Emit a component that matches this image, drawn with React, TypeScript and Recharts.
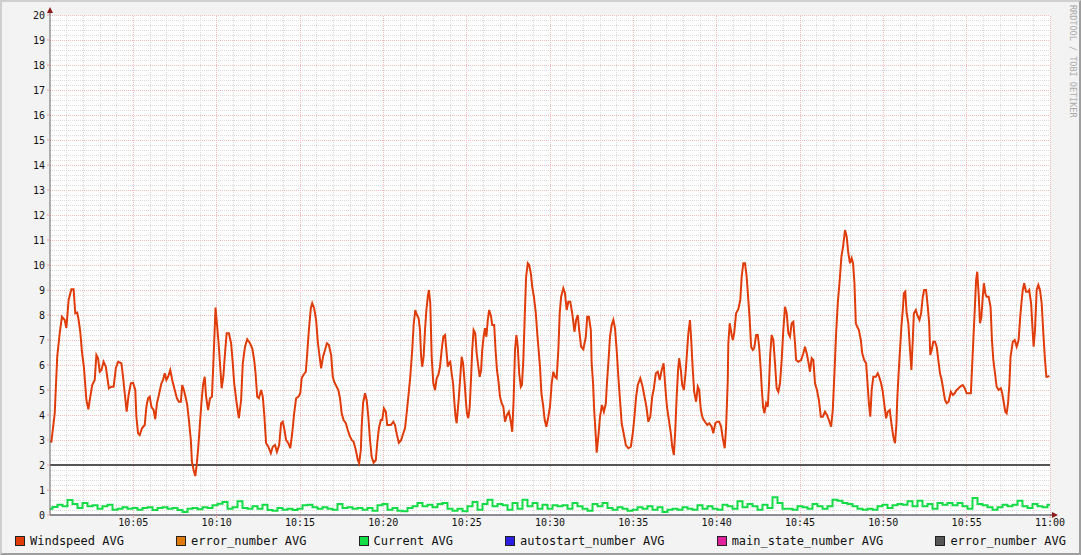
import React from 'react'
import {
  LineChart, Line, XAxis, YAxis, CartesianGrid, ReferenceLine, ReferenceDot,
} from 'recharts'

// seconds after 10:00, windspeed (m/s)
const windspeed: [number, number][] = [
  [0, 2.95], [5, 2.93], [17, 4.07], [26, 6.33], [35, 7.28], [43, 7.93], [53, 7.8], [59, 7.48],
  [67, 8.6], [77, 9.03], [85, 9.03], [91, 8.07], [98, 8.1], [103, 7.8], [109, 7.33], [115, 6.53],
  [122, 5.93], [131, 4.6], [138, 4.23], [145, 4.73], [152, 5.2], [161, 5.4], [167, 6.4], [173, 6.27],
  [179, 5.73], [185, 5.8], [193, 6.13], [201, 5.93], [206, 5.53], [212, 5.07], [221, 5.13], [229, 5.13],
  [237, 5.87], [245, 6.13], [257, 6.07], [263, 5.53], [269, 4.87], [276, 4.13], [283, 4.8], [291, 5.27],
  [299, 5.29], [307, 5.0], [311, 3.93], [317, 3.27], [323, 3.2], [331, 3.47], [341, 3.6], [347, 4.33],
  [353, 4.67], [359, 4.73], [365, 4.33], [373, 4.2], [379, 3.83], [385, 4.47], [392, 4.8], [401, 5.27],
  [407, 5.4], [413, 5.67], [419, 5.4], [425, 5.53], [433, 5.8], [440, 5.4], [449, 5.0], [457, 4.67],
  [464, 4.53], [471, 4.53], [476, 5.2], [482, 5.0], [489, 4.67], [494, 4.4], [500, 3.8], [507, 3.0],
  [511, 2.13], [517, 1.8], [523, 1.56], [527, 1.9], [533, 2.6], [539, 3.53], [545, 4.47], [551, 5.2],
  [557, 5.53], [562, 4.73], [569, 4.2], [576, 4.67], [583, 4.73], [589, 6.33], [596, 8.3], [606, 7.0],
  [612, 6.07], [618, 5.07], [624, 5.53], [630, 6.47], [636, 7.27], [644, 7.27], [652, 6.87], [658, 6.07],
  [663, 5.27], [672, 4.47], [680, 3.87], [688, 4.6], [694, 6.07], [702, 6.73], [710, 7.03], [720, 6.87],
  [728, 6.67], [735, 6.2], [740, 5.67], [746, 4.73], [752, 4.67], [760, 5.0], [766, 4.73], [771, 4.07],
  [778, 2.87], [786, 2.73], [795, 2.47], [802, 2.73], [810, 2.8], [817, 2.53], [825, 2.8], [832, 3.67],
  [838, 3.73], [843, 3.47], [850, 3.0], [858, 2.87], [865, 2.67], [872, 3.27], [879, 4.07], [886, 4.67],
  [894, 4.73], [901, 4.87], [906, 5.47], [912, 5.6], [921, 5.73], [926, 6.47], [932, 7.4], [939, 8.27],
  [944, 8.47], [951, 8.27], [958, 7.8], [964, 6.93], [969, 6.47], [976, 5.87], [983, 6.33], [990, 6.6],
  [997, 6.87], [1004, 6.8], [1012, 6.4], [1018, 5.53], [1023, 5.33], [1032, 5.13], [1038, 5.0], [1044, 4.67],
  [1050, 4.07], [1057, 3.8], [1065, 3.67], [1072, 3.4], [1079, 3.16], [1086, 3.0], [1093, 2.93], [1101, 2.6],
  [1108, 2.2], [1113, 2.07], [1119, 2.6], [1122, 3.53], [1127, 4.47], [1134, 4.87], [1140, 4.6], [1146, 3.93],
  [1152, 3.0], [1158, 2.33], [1165, 2.09], [1173, 2.2], [1178, 2.87], [1184, 3.47], [1191, 3.8], [1196, 3.8],
  [1202, 4.27], [1209, 4.13], [1214, 3.6], [1227, 3.6], [1236, 3.73], [1242, 3.6], [1249, 3.2], [1256, 2.89],
  [1264, 3.0], [1272, 3.27], [1278, 3.47], [1284, 4.07], [1290, 4.73], [1297, 5.53], [1304, 6.6], [1309, 7.6],
  [1315, 8.2], [1321, 8.0], [1327, 7.87], [1332, 7.4], [1336, 6.33], [1340, 5.93], [1345, 6.33], [1350, 7.4],
  [1355, 8.2], [1360, 8.73], [1364, 9.0], [1369, 8.47], [1374, 6.33], [1380, 5.27], [1386, 5.0], [1392, 5.47],
  [1398, 5.6], [1404, 5.93], [1410, 6.6], [1416, 7.13], [1422, 7.2], [1427, 6.6], [1432, 5.93], [1436, 6.07],
  [1441, 6.13], [1446, 5.67], [1451, 5.27], [1456, 4.47], [1460, 3.93], [1464, 3.67], [1468, 4.2], [1472, 4.73],
  [1477, 5.53], [1482, 6.33], [1487, 6.07], [1492, 5.4], [1497, 4.6], [1501, 4.07], [1506, 3.87], [1511, 4.33],
  [1516, 5.53], [1520, 6.6], [1525, 7.4], [1531, 7.27], [1536, 6.47], [1542, 5.93], [1547, 5.53], [1552, 5.8],
  [1556, 6.6], [1561, 7.13], [1566, 7.47], [1571, 7.13], [1576, 7.8], [1581, 8.2], [1588, 7.93], [1592, 7.6],
  [1599, 7.6], [1604, 6.6], [1609, 5.8], [1614, 5.4], [1620, 4.73], [1626, 4.47], [1632, 4.33], [1638, 3.73],
  [1645, 4.0], [1652, 4.13], [1660, 3.67], [1664, 3.33], [1669, 4.6], [1674, 6.6], [1679, 7.2], [1684, 6.73],
  [1689, 5.67], [1695, 5.13], [1699, 5.2], [1704, 6.2], [1709, 7.93], [1714, 9.53], [1720, 10.07], [1725, 10.0],
  [1731, 9.67], [1736, 9.13], [1742, 8.73], [1749, 8.07], [1754, 7.27], [1759, 6.6], [1764, 5.93], [1769, 4.87],
  [1775, 4.4], [1781, 3.8], [1787, 3.53], [1794, 3.93], [1800, 4.33], [1806, 5.27], [1812, 5.73], [1818, 5.53],
  [1824, 5.47], [1830, 6.6], [1835, 8.07], [1840, 8.73], [1848, 9.07], [1854, 8.87], [1860, 8.2], [1866, 8.53],
  [1873, 8.53], [1880, 8.07], [1888, 7.33], [1894, 7.8], [1900, 8.0], [1905, 7.4], [1912, 6.73], [1920, 6.63],
  [1929, 7.13], [1934, 7.93], [1940, 7.93], [1947, 7.4], [1950, 6.07], [1955, 5.27], [1959, 4.2], [1965, 3.13],
  [1968, 2.49], [1974, 3.13], [1980, 3.93], [1987, 4.4], [1994, 4.13], [2001, 4.47], [2005, 5.27], [2010, 6.07],
  [2016, 7.13], [2022, 7.6], [2028, 7.8], [2034, 7.47], [2040, 6.6], [2046, 5.53], [2052, 4.6], [2058, 3.67],
  [2065, 3.27], [2073, 2.8], [2082, 2.67], [2091, 2.73], [2098, 3.27], [2104, 3.93], [2110, 4.73], [2116, 5.2],
  [2125, 5.47], [2132, 5.2], [2139, 4.8], [2147, 4.33], [2154, 3.73], [2161, 3.93], [2168, 4.73], [2174, 5.07],
  [2181, 5.67], [2188, 5.73], [2195, 5.4], [2202, 5.8], [2209, 6.07], [2215, 5.13], [2221, 4.33], [2228, 3.8],
  [2235, 3.27], [2240, 2.73], [2246, 2.4], [2251, 3.4], [2256, 4.73], [2261, 5.8], [2265, 6.27], [2271, 5.8],
  [2276, 5.2], [2282, 5.0], [2289, 5.8], [2293, 6.47], [2298, 7.27], [2304, 7.8], [2309, 6.87], [2314, 5.8],
  [2319, 4.93], [2326, 4.53], [2332, 5.13], [2337, 5.0], [2343, 4.2], [2350, 3.87], [2358, 3.73], [2366, 3.6],
  [2373, 3.67], [2382, 3.53], [2388, 3.27], [2395, 3.67], [2402, 3.73], [2409, 3.73], [2416, 3.53], [2422, 3.07],
  [2429, 2.67], [2434, 3.53], [2440, 5.4], [2442, 6.87], [2447, 7.67], [2453, 7.27], [2458, 7.0], [2463, 7.27],
  [2470, 8.07], [2478, 8.23], [2485, 8.6], [2490, 9.53], [2496, 10.07], [2502, 10.07], [2508, 9.53], [2514, 8.6],
  [2519, 7.8], [2524, 6.73], [2530, 6.6], [2535, 6.67], [2542, 7.2], [2548, 7.2], [2553, 6.73], [2558, 5.93],
  [2562, 5.13], [2567, 4.33], [2572, 4.07], [2578, 4.47], [2584, 4.33], [2588, 5.13], [2593, 6.47], [2598, 7.2],
  [2604, 7.0], [2610, 6.07], [2616, 5.07], [2622, 4.93], [2628, 5.27], [2634, 6.2], [2640, 7.4], [2646, 8.33],
  [2652, 8.07], [2658, 7.27], [2664, 7.13], [2670, 7.67], [2676, 7.73], [2682, 6.87], [2686, 6.2], [2694, 6.13],
  [2704, 6.2], [2712, 6.47], [2718, 6.73], [2724, 6.47], [2730, 6.13], [2736, 5.73], [2742, 6.27], [2748, 6.2],
  [2754, 5.27], [2761, 5.0], [2768, 4.6], [2775, 3.93], [2782, 3.93], [2790, 4.13], [2797, 4.0], [2804, 3.8],
  [2812, 3.53], [2818, 4.2], [2824, 5.67], [2830, 7.27], [2836, 8.47], [2843, 9.4], [2849, 10.33], [2855, 10.73],
  [2862, 11.4], [2868, 11.13], [2874, 10.47], [2880, 10.07], [2886, 10.27], [2891, 10.07], [2896, 9.27], [2901, 7.67],
  [2906, 7.53], [2912, 7.4], [2919, 7.0], [2924, 6.47], [2931, 6.2], [2938, 6.07], [2944, 5.13], [2948, 4.47],
  [2953, 3.93], [2958, 5.0], [2964, 5.53], [2973, 5.53], [2980, 5.67], [2985, 5.53], [2992, 5.27], [2998, 4.93],
  [3003, 4.47], [3010, 3.87], [3016, 4.13], [3023, 4.2], [3029, 3.67], [3036, 3.13], [3042, 2.87], [3047, 3.6],
  [3050, 4.6], [3055, 5.67], [3060, 6.6], [3065, 7.53], [3070, 8.2], [3074, 8.87], [3079, 8.93], [3084, 8.07],
  [3090, 7.67], [3096, 6.6], [3101, 5.8], [3106, 7.0], [3110, 8.07], [3117, 8.2], [3122, 8.0], [3130, 7.8],
  [3136, 8.07], [3142, 8.73], [3147, 9.0], [3154, 9.0], [3160, 8.33], [3165, 7.67], [3169, 6.4], [3174, 6.6],
  [3180, 6.93], [3186, 6.93], [3192, 6.73], [3198, 6.2], [3204, 5.67], [3210, 5.4], [3216, 5.0], [3222, 4.6],
  [3228, 4.47], [3235, 4.53], [3243, 4.93], [3250, 4.8], [3257, 4.87], [3264, 5.0], [3271, 5.07], [3279, 5.16],
  [3286, 5.2], [3293, 5.07], [3300, 4.87], [3307, 4.87], [3315, 4.87], [3319, 5.8], [3324, 7.0], [3329, 8.2],
  [3334, 9.4], [3338, 9.73], [3343, 8.87], [3348, 7.67], [3353, 7.93], [3358, 8.73], [3362, 9.27], [3367, 8.87],
  [3372, 8.73], [3379, 8.73], [3386, 8.33], [3391, 7.0], [3396, 6.2], [3402, 5.67], [3408, 5.13], [3415, 5.0],
  [3423, 5.07], [3428, 4.87], [3434, 4.47], [3439, 4.13], [3444, 4.07], [3449, 4.47], [3454, 5.27], [3458, 6.33],
  [3466, 6.93], [3473, 7.0], [3480, 6.73], [3487, 7.0], [3492, 7.8], [3497, 8.47], [3502, 9.0], [3507, 9.27],
  [3514, 8.93], [3520, 8.93], [3525, 9.0], [3532, 8.47], [3538, 7.27], [3541, 6.73], [3546, 7.4], [3552, 9.0],
  [3558, 9.2], [3564, 9.0], [3570, 8.47], [3576, 7.27], [3582, 6.2], [3587, 5.53], [3592, 5.53], [3597, 5.57],
]

// current, one sample every 18 s
const CURRENT_STEP = 18
const current = [
  0.25, 0.32, 0.41, 0.35, 0.6, 0.44, 0.28, 0.48, 0.35, 0.39,
  0.25, 0.35, 0.41, 0.21, 0.25, 0.31, 0.25, 0.28, 0.21, 0.28,
  0.31, 0.2, 0.28, 0.31, 0.25, 0.28, 0.2, 0.12, 0.25, 0.28,
  0.23, 0.31, 0.28, 0.39, 0.45, 0.52, 0.25, 0.31, 0.55, 0.28,
  0.25, 0.35, 0.25, 0.41, 0.2, 0.17, 0.28, 0.21, 0.25, 0.2,
  0.25, 0.39, 0.41, 0.31, 0.25, 0.31, 0.25, 0.21, 0.44, 0.28,
  0.31, 0.25, 0.28, 0.21, 0.28, 0.17, 0.39, 0.44,
  0.21, 0.28, 0.17, 0.15, 0.28, 0.35, 0.48, 0.35, 0.41, 0.31,
  0.44, 0.48, 0.25, 0.17, 0.25, 0.15, 0.35, 0.52, 0.21, 0.44,
  0.61, 0.35, 0.44, 0.39, 0.21, 0.48, 0.25, 0.61, 0.35, 0.48,
  0.25, 0.41, 0.25, 0.39, 0.35, 0.39, 0.25, 0.48, 0.35, 0.25,
  0.17, 0.44, 0.35, 0.48, 0.28, 0.21, 0.31, 0.25, 0.17, 0.21,
  0.31, 0.25, 0.35, 0.21, 0.31, 0.12, 0.21, 0.25, 0.21, 0.31,
  0.25, 0.21, 0.39, 0.25, 0.35, 0.25, 0.21,
  0.41, 0.35, 0.25, 0.55, 0.31, 0.44, 0.35, 0.21, 0.41, 0.28,
  0.71, 0.48, 0.25, 0.25, 0.21, 0.35, 0.31, 0.25, 0.44, 0.35,
  0.25, 0.35, 0.61, 0.57, 0.48, 0.44, 0.35, 0.25, 0.21, 0.25,
  0.21, 0.35, 0.41, 0.28, 0.39, 0.44, 0.41, 0.55, 0.35, 0.57,
  0.35, 0.44, 0.25, 0.48, 0.41, 0.48, 0.39, 0.48, 0.35, 0.25,
  0.68, 0.44, 0.39, 0.31, 0.21, 0.31, 0.41, 0.35, 0.41, 0.57,
  0.35, 0.28, 0.44, 0.35, 0.31, 0.41,
]

const HRULE = 2
const yTicks = [0, 1, 2, 3, 4, 5, 6, 7, 8, 9, 10, 11, 12, 13, 14, 15, 16, 17, 18, 19, 20]
const xTicks = [300, 600, 900, 1200, 1500, 1800, 2100, 2400, 2700, 3000, 3300, 3600]

const legendNames = [
  'Windspeed AVG', 'error_number AVG', 'Current AVG',
  'autostart_number AVG', 'main_state_number AVG', 'error_number AVG',
]
const legendColors = ['#e03c0a', '#e07a0a', '#14dc46', '#2a1ee0', '#e0209c', '#555555']

const windData = windspeed.map(([t, v]) => ({ t, v }))
const currentData = current.map((v, i) => ({ t: i * CURRENT_STEP, v }))

// minor grid every 0.2 / 1 min, major every 1 / 5 min
const minorY: number[] = []
for (let i = 1; i < 100; i++) if (i % 5 !== 0) minorY.push(i / 5)
const minorX: number[] = []
for (let m = 1; m < 60; m++) if (m % 5 !== 0) minorX.push(m * 60)

const MONO = '"DejaVu Sans Mono", monospace'

const fmtTime = (s: number) => {
  const m = Math.round(s / 60)
  const h = 10 + Math.floor(m / 60)
  return `${h}:${String(m % 60).padStart(2, '0')}`
}

const ArrowUp = (p: any) => (
  <g>
    <line x1={p.cx} y1={p.cy} x2={p.cx} y2={p.cy - 3} stroke="#666" />
    <polygon points={`${p.cx - 3},${p.cy - 2} ${p.cx + 3},${p.cy - 2} ${p.cx},${p.cy - 8}`} fill="#8b1a1a" />
  </g>
)

const ArrowRight = (p: any) => (
  <g>
    <line x1={p.cx} y1={p.cy} x2={p.cx + 3} y2={p.cy} stroke="#222233" />
    <polygon points={`${p.cx + 2},${p.cy - 3} ${p.cx + 2},${p.cy + 3} ${p.cx + 8},${p.cy}`} fill="#8b1a1a" />
  </g>
)

export default function App() {
  return (
    <div style={{ position: 'relative', width: 1081, height: 555, background: '#f3f3f3', overflow: 'hidden' }}>
      <style>{'body{margin:0}'}</style>
      <LineChart
        width={1081}
        height={555}
        margin={{ top: 15, right: 31, bottom: 0, left: 0 }}
        style={{ position: 'absolute', left: 0, top: 0 }}
      >
        <CartesianGrid horizontal={false} vertical={false} fill="#ffffff" />
        <XAxis
          dataKey="t"
          type="number"
          domain={[0, 3600]}
          ticks={xTicks}
          interval={0}
          allowDataOverflow
          height={40}
          tickFormatter={fmtTime}
          axisLine={{ stroke: '#222233' }}
          tickLine={{ stroke: '#e8a0a0' }}
          tickSize={3}
          tickMargin={1}
          tick={{ fill: '#111', fontSize: 10, fontFamily: MONO }}
        />
        <YAxis
          type="number"
          domain={[0, 20]}
          ticks={yTicks}
          interval={0}
          allowDataOverflow
          width={50}
          axisLine={{ stroke: '#666' }}
          tickLine={{ stroke: '#e8a0a0' }}
          tickSize={3}
          tickMargin={2}
          tick={{ fill: '#111', fontSize: 10, fontFamily: MONO }}
        />

        {minorY.map(v => (
          <ReferenceLine key={`my${v}`} y={v} stroke="#dadada" strokeDasharray="1 1" shapeRendering="crispEdges" />
        ))}
        {minorX.map(t => (
          <ReferenceLine key={`mx${t}`} x={t} stroke="#dadada" strokeDasharray="1 1" shapeRendering="crispEdges" />
        ))}
        {yTicks.filter(v => v > 0).map(v => (
          <ReferenceLine key={`My${v}`} y={v} stroke="#f2bcbc" strokeDasharray="1 1" shapeRendering="crispEdges" />
        ))}
        {xTicks.map(t => (
          <ReferenceLine key={`Mx${t}`} x={t} stroke="#f2bcbc" strokeDasharray="1 1" shapeRendering="crispEdges" />
        ))}

        <ReferenceLine y={HRULE} stroke="#555555" strokeWidth={2} />

        <Line
          data={currentData}
          dataKey="v"
          type="step"
          stroke="#14dc46"
          strokeWidth={2}
          dot={false}
          isAnimationActive={false}
        />
        <Line
          data={windData}
          dataKey="v"
          type="linear"
          stroke="#e03c0a"
          strokeWidth={2}
          dot={false}
          isAnimationActive={false}
        />

        <ReferenceDot x={0} y={20} r={0} ifOverflow="visible" shape={ArrowUp} />
        <ReferenceDot x={3600} y={0} r={0} ifOverflow="visible" shape={ArrowRight} />
      </LineChart>

      <div
        style={{
          position: 'absolute', left: 15, right: 15, top: 534,
          display: 'flex', justifyContent: 'space-between',
          fontFamily: MONO, fontSize: 12, color: '#111', lineHeight: '14px',
        }}
      >
        {legendNames.map((name, i) => (
          <div key={i} style={{ display: 'flex', alignItems: 'center', whiteSpace: 'pre' }}>
            <span
              style={{
                display: 'inline-block', width: 8, height: 8, marginRight: 5,
                background: legendColors[i], border: '1px solid #222',
              }}
            />
            {name}
          </div>
        ))}
      </div>

      <div
        style={{
          position: 'absolute', left: 1068, top: 5,
          writingMode: 'vertical-rl', fontFamily: MONO, fontSize: 8.5,
          color: '#aaaaaa', letterSpacing: 0, lineHeight: '10px',
        }}
      >
        RRDTOOL / TOBI OETIKER
      </div>

      <div
        style={{
          position: 'absolute', inset: 0, pointerEvents: 'none',
          borderTop: '2px solid #cfcfcf', borderLeft: '2px solid #cfcfcf',
          borderBottom: '2px solid #9e9e9e', borderRight: '2px solid #9e9e9e',
        }}
      />
    </div>
  )
}
